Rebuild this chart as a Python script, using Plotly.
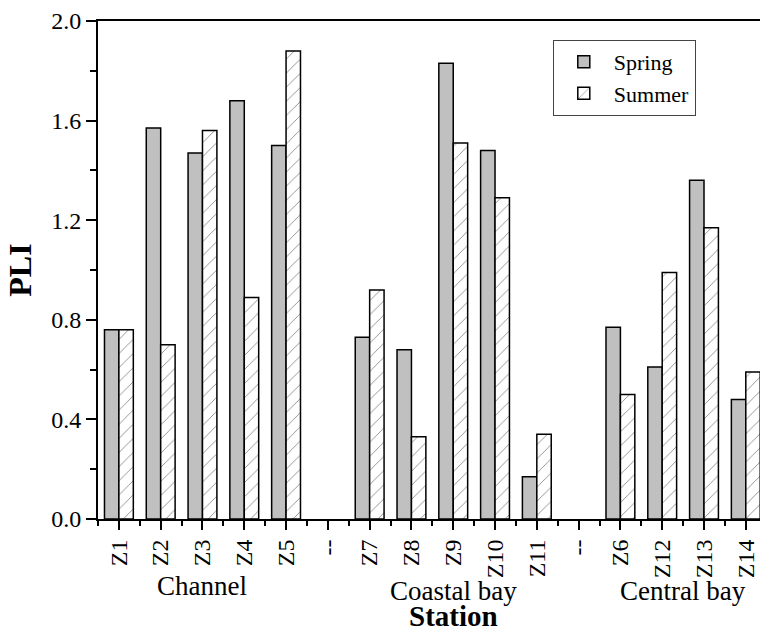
import plotly.graph_objects as go

stations = ["Z1", "Z2", "Z3", "Z4", "Z5", "--", "Z7", "Z8", "Z9", "Z10", "Z11", "--", "Z6", "Z12", "Z13", "Z14"]
spring = [0.76, 1.57, 1.47, 1.68, 1.50, None, 0.73, 0.68, 1.83, 1.48, 0.17, None, 0.77, 0.61, 1.36, 0.48]
summer = [0.76, 0.70, 1.56, 0.89, 1.88, None, 0.92, 0.33, 1.51, 1.29, 0.34, None, 0.50, 0.99, 1.17, 0.59]
groups = ["Channel", "Coastal bay", "Central bay"]
group_centers = [2, 8, 13.5]
y_ticks = [0.0, 0.4, 0.8, 1.2, 1.6, 2.0]
x_title = "Station"
y_title = "PLI"

xpos = list(range(len(stations)))
FONT = "Times New Roman, Liberation Serif, serif"
label_shift = {"Channel": -67}

fig = go.Figure()
fig.add_trace(go.Bar(
    x=xpos, y=spring, name="Spring",
    marker=dict(color="#c0c0c0", line=dict(color="black", width=1.5)),
))
fig.add_trace(go.Bar(
    x=xpos, y=summer, name="Summer",
    marker=dict(color="white", line=dict(color="black", width=1.5),
                pattern=dict(shape="/", fgcolor="black", bgcolor="white", size=10, solidity=0.08)),
))

for name, cx in zip(groups, group_centers):
    fig.add_annotation(x=cx, xref="x", y=0, yref="paper", yshift=label_shift.get(name, -72),
                       yanchor="middle", text=name, showarrow=False, borderpad=0,
                       font=dict(family=FONT, size=27, color="black"))

fig.add_annotation(x=8, xref="x", y=0, yref="paper", yshift=-97, yanchor="middle",
                   text=f"<b>{x_title}</b>", showarrow=False, borderpad=0,
                   font=dict(family=FONT, size=29, color="black"))

fig.update_layout(
    width=760, height=631,
    margin=dict(l=98, r=0, t=21, b=112),
    paper_bgcolor="white", plot_bgcolor="white",
    barmode="group", bargap=0.31, bargroupgap=0,
    font=dict(family=FONT, size=22, color="black"),
    showlegend=True,
    legend=dict(x=0.687, y=0.962, xanchor="left", yanchor="top",
                bordercolor="#444", borderwidth=1, bgcolor="white",
                font=dict(family=FONT, size=22), itemwidth=50, tracegroupgap=0),
    xaxis=dict(
        range=[-0.5, 15.34], tickmode="array", tickvals=xpos, ticktext=stations,
        tickangle=-90, ticks="outside", ticklen=9, tickwidth=1.5, tickcolor="black",
        showline=True, linecolor="black", linewidth=2, mirror=True,
        showgrid=False, zeroline=False, automargin=False,
        minor=dict(tickmode="array", tickvals=[p + 0.5 for p in xpos[:-1]] + [-0.5],
                   ticks="outside", ticklen=5, tickwidth=1.5, tickcolor="black", showgrid=False),
        tickfont=dict(family=FONT, size=24),
    ),
    yaxis=dict(
        range=[0, 2.0], tickmode="array", tickvals=y_ticks,
        ticktext=[f"{v:.1f}" for v in y_ticks],
        ticks="outside", ticklen=10, tickwidth=1.5, tickcolor="black",
        showline=True, linecolor="black", linewidth=2, mirror=False,
        showgrid=False, zeroline=False, automargin=False,
        minor=dict(dtick=0.2, ticks="outside", ticklen=6, tickwidth=1.5, tickcolor="black", showgrid=False),
        tickfont=dict(family=FONT, size=24),
        title=dict(text=f"<b>{y_title}</b>", font=dict(family=FONT, size=32), standoff=10),
    ),
)

fig.write_html("out.html")
